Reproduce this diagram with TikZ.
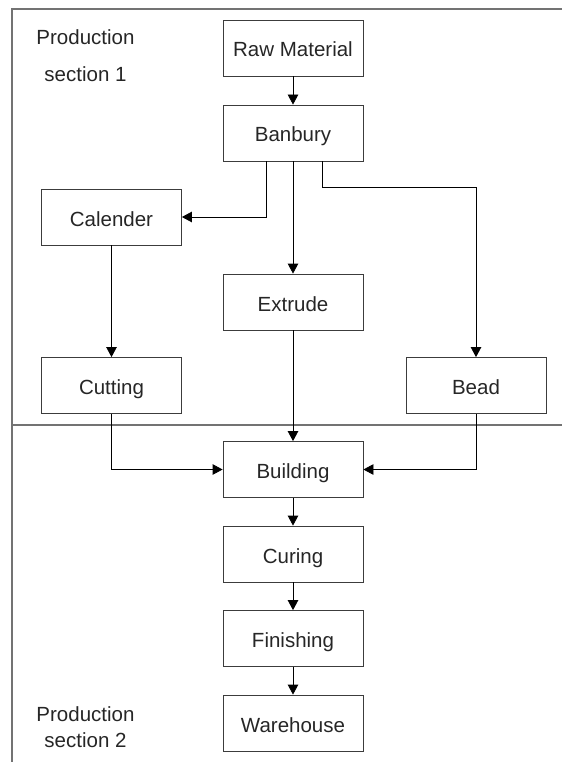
\documentclass[tikz,border=0pt]{standalone}
\usepackage{fontspec}
\setmainfont{Liberation Sans}
\usetikzlibrary{arrows.meta}

\definecolor{boxline}{RGB}{60,60,60}
\definecolor{frameline}{RGB}{115,115,115}

\tikzset{
  stepbox/.style={draw=boxline, line width=0.8pt, minimum width=140pt, minimum height=56pt,
                  inner sep=0pt, text height=19pt, text depth=1pt,
                  font=\fontsize{20.5}{24}\selectfont, text=black!85},
  label/.style={anchor=base, inner sep=0pt, font=\fontsize{20.5}{24}\selectfont, text=black!85},
  flow/.style={draw=black, line width=0.8pt, -{Triangle[length=10pt,width=10.5pt]}},
  frame/.style={draw=frameline, line width=1.3pt}
}

\begin{document}
\begin{tikzpicture}[x=1pt, y=-1pt]
  \useasboundingbox (0,0) rectangle (562,762);

  % section frame and divider
  \coordinate (ftl) at (12,9);
  \coordinate (ftr) at (562,9);
  \coordinate (fbl) at (12,762);
  \coordinate (dl) at (12,425);
  \coordinate (dr) at (562,425);
  \draw[frame] (fbl) -- (ftl) -- (ftr);
  \draw[frame] (dl) -- (dr);

  % section labels
  \node[label] (s1a) at (85.5,45) {Production};
  \node[label] (s1b) at (85.5,82) {section 1};
  \node[label] (s2a) at (85.5,721) {Production};
  \node[label] (s2b) at (85.5,747) {section 2};

  % process steps
  \node[stepbox] (raw)       at (293,48)    {Raw Material};
  \node[stepbox] (banbury)   at (293,133)   {Banbury};
  \node[stepbox] (calender)  at (111.5,217) {Calender};
  \node[stepbox] (extrude)   at (293,302)   {Extrude};
  \node[stepbox] (cutting)   at (111.5,385.5) {Cutting};
  \node[stepbox] (bead)      at (476,385.5) {Bead};
  \node[stepbox] (building)  at (293,469.5) {Building};
  \node[stepbox] (curing)    at (293,554)   {Curing};
  \node[stepbox] (finishing) at (293,638.5) {Finishing};
  \node[stepbox] (warehouse) at (293,723)   {Warehouse};

  % connectors
  \draw[flow] (raw) -- (banbury);
  \draw[flow] ([xshift=-27pt]banbury.south) |- (calender.east);
  \draw[flow] (banbury) -- (extrude);
  \draw[flow] ([xshift=29pt]banbury.south) -- ++(0,26) -| (bead.north);
  \draw[flow] (calender) -- (cutting);
  \draw[flow] (extrude) -- (building);
  \draw[flow] (cutting.south) |- (building.west);
  \draw[flow] (bead.south) |- (building.east);
  \draw[flow] (building) -- (curing);
  \draw[flow] (curing) -- (finishing);
  \draw[flow] (finishing) -- (warehouse);
\end{tikzpicture}
\end{document}
